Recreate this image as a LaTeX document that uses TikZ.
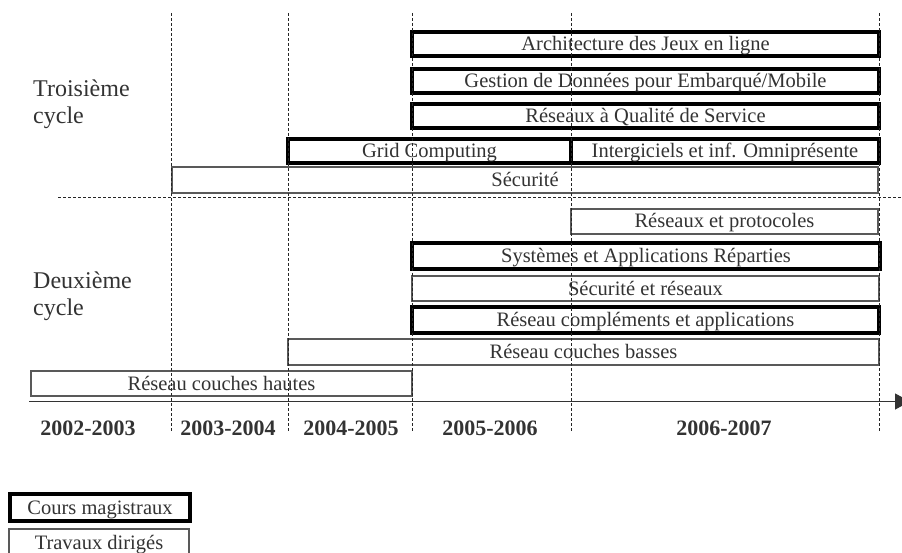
\documentclass[tikz,border=0pt]{standalone}
\usepackage{fontspec}
\setmainfont{Liberation Serif}
\usetikzlibrary{arrows.meta}
\begin{document}
\begin{tikzpicture}[x=1pt,y=-1pt,
  boxtext/.style={inner sep=0pt, font=\fontsize{20.5}{24}\selectfont, text=black!80, text height=14pt, text depth=1pt},
  cmbox/.style={boxtext, draw=black, line width=3.4pt},
  tdbox/.style={boxtext, draw=black!65, line width=1.3pt},
  guide/.style={dash pattern=on 3pt off 2pt, line width=0.9pt, draw=black!85},
  yearlbl/.style={font=\bfseries\fontsize{22}{26}\selectfont, text=black!80, inner sep=0pt},
  cyclelbl/.style={align=left, font=\fontsize{24}{27}\selectfont, text=black!80, anchor=west, inner sep=0pt}]
\useasboundingbox (0,0) rectangle (902,553);

% third cycle
\node[cmbox, minimum width=467pt, minimum height=24pt] (arch) at (645.5,44) {Architecture des Jeux en ligne};
\node[cmbox, minimum width=467pt, minimum height=24pt] (gest) at (645.5,81) {Gestion de Données pour Embarqué/Mobile};
\node[cmbox, minimum width=467pt, minimum height=24pt] (qos) at (645.5,116) {Réseaux à Qualité de Service};
\node[cmbox, minimum width=283pt, minimum height=24pt] (grid) at (429.5,151) {Grid Computing};
\node[cmbox, minimum width=308pt, minimum height=24pt] (inter) at (725,151) {Intergiciels et inf. Omniprésente};
\node[tdbox, minimum width=706pt, minimum height=26pt] (secu) at (525,180) {Sécurité};

% second cycle
\node[tdbox, minimum width=307pt, minimum height=25pt] (proto) at (724.5,221.5) {Réseaux et protocoles};
\node[cmbox, minimum width=468pt, minimum height=26pt] (sys) at (646,256) {Systèmes et Applications Réparties};
\node[tdbox, minimum width=467pt, minimum height=25pt] (secres) at (645.5,288.5) {Sécurité et réseaux};
\node[cmbox, minimum width=467pt, minimum height=26pt] (compl) at (645.5,320) {Réseau compléments et applications};
\node[tdbox, minimum width=591pt, minimum height=26pt] (basses) at (583.5,352) {Réseau couches basses};
\node[tdbox, minimum width=381pt, minimum height=25pt] (hautes) at (221.5,383.5) {Réseau couches hautes};

% cycle labels
\node[cyclelbl] (troisieme) at (33,104) {Troisième\\cycle};
\node[cyclelbl] (deuxieme) at (33,296) {Deuxième\\cycle};

% guides
\foreach \gx in {171,288,412,571,879}
  \draw[guide] (\gx,13) -- (\gx,432);
\draw[guide] (58,197) -- (902,197);

% axis
\coordinate (axL) at (29,401.5);
\coordinate (axR) at (910,401.5);
\draw[line width=1.2pt, draw=black!80, -{Triangle[length=15pt,width=16pt]}] (axL) -- (axR);

% years
\node[yearlbl] (y1) at (88,428) {2002-2003};
\node[yearlbl] (y2) at (228,428) {2003-2004};
\node[yearlbl] (y3) at (351,428) {2004-2005};
\node[yearlbl] (y4) at (490,428) {2005-2006};
\node[yearlbl] (y5) at (724,428) {2006-2007};

% legend
\node[cmbox, minimum width=180pt, minimum height=27pt] (lcm) at (100,507.5) {Cours magistraux};
\node[tdbox, minimum width=180pt, minimum height=27pt] (ltd) at (99,542.5) {Travaux dirigés};
\end{tikzpicture}
\end{document}
